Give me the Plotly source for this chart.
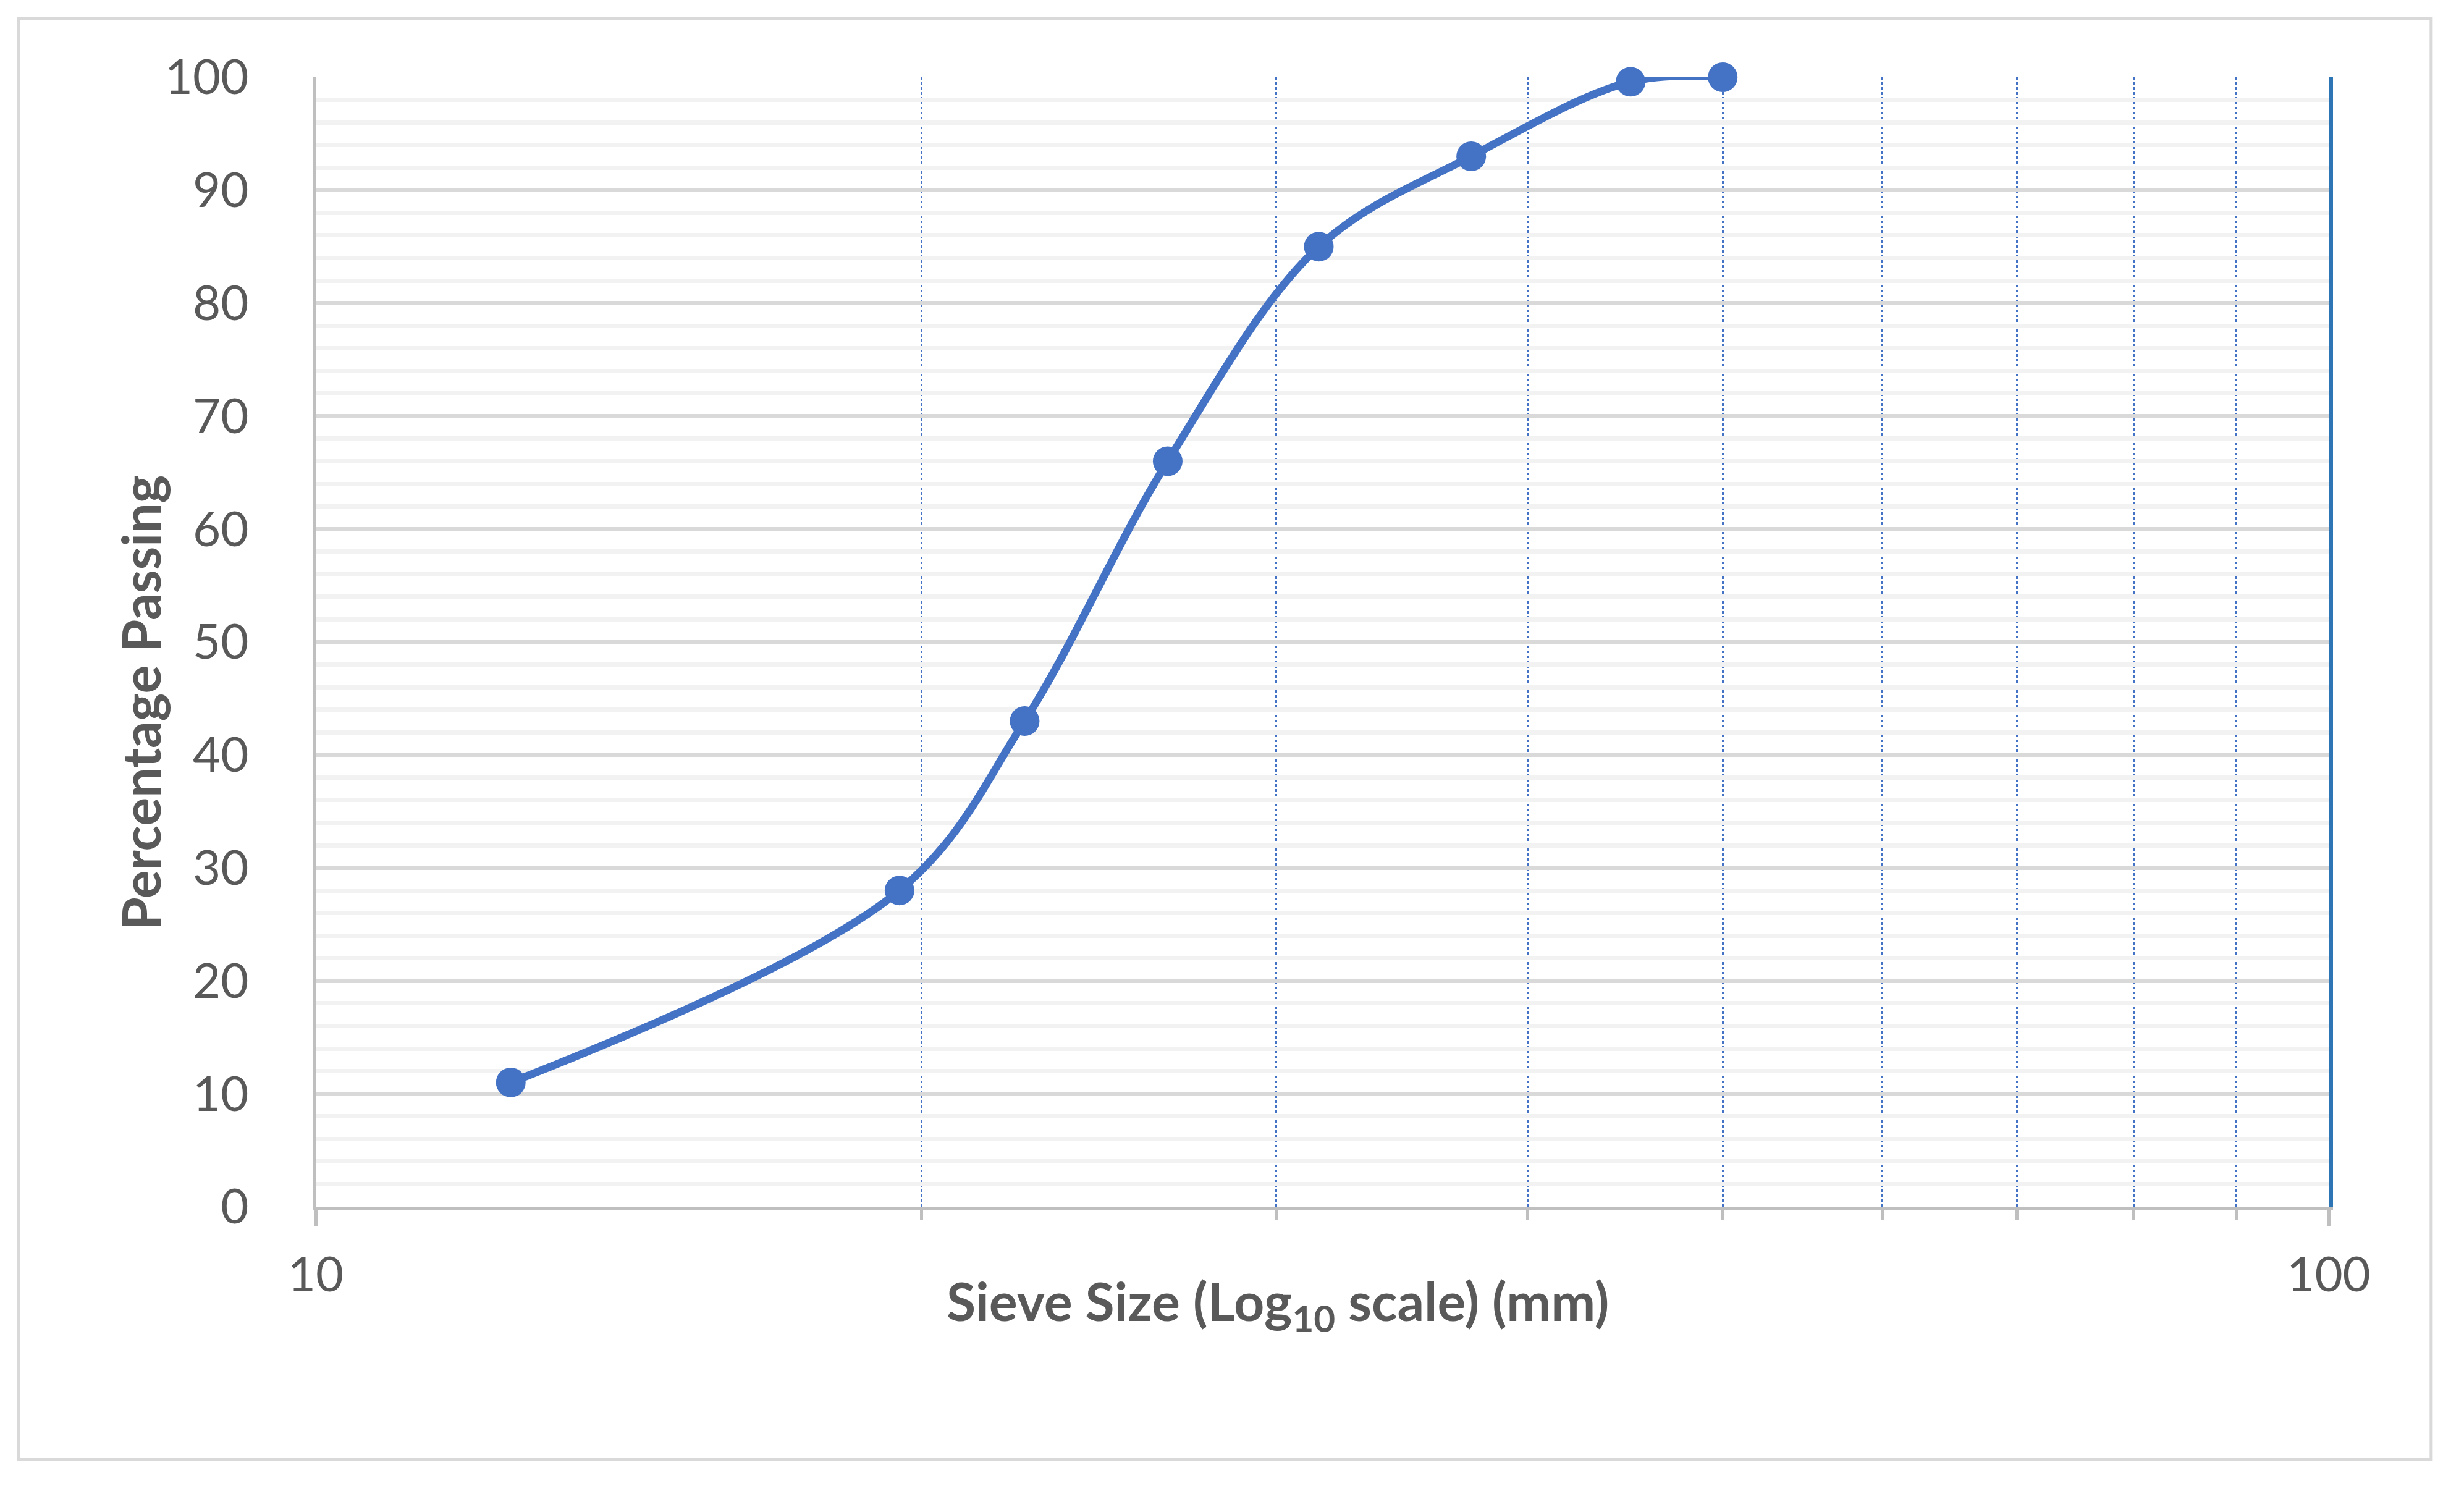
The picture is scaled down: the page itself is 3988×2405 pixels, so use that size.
import plotly.graph_objects as go

# sieve analysis: size (mm) vs cumulative % passing
sieve_mm = [12.5, 19.5, 22.5, 26.5, 31.5, 37.5, 45, 50]
passing = [11, 28, 43, 66, 85, 93, 99.6, 100]

y_ticks = list(range(0, 101, 10))
x_major = [10, 100]
x_minor = [20, 30, 40, 50, 60, 70, 80, 90]

BLUE = "#4472c4"
TXT = "#595959"
FONT = "Lato, 'Open Sans', sans-serif"

fig = go.Figure()
fig.add_trace(go.Scatter(
    x=sieve_mm, y=passing, mode="lines+markers",
    line=dict(color=BLUE, width=12.5, shape="spline", smoothing=1),
    marker=dict(color=BLUE, size=48),
    cliponaxis=False, showlegend=False,
))
# invisible copy so the right-hand axis (the blue edge at 100 mm) gets drawn
fig.add_trace(go.Scatter(
    x=sieve_mm, y=passing, yaxis="y2", mode="lines",
    line=dict(width=0), hoverinfo="skip", showlegend=False,
))

fig.update_xaxes(
    type="log", range=[1, 2],
    tickvals=x_major, ticktext=[str(v) for v in x_major],
    showgrid=False, zeroline=False,
    showline=True, linecolor="#bfbfbf", linewidth=5,
    ticks="outside", ticklen=26, tickwidth=5, tickcolor="#bfbfbf",
    ticklabelstandoff=12,
    tickfont=dict(family=FONT, size=78, color=TXT),
    minor=dict(tickvals=x_minor, ticks="outside", ticklen=16, tickwidth=5,
               tickcolor="#bfbfbf", showgrid=True, gridcolor=BLUE,
               gridwidth=3, griddash="4px,4px"),
)
fig.update_yaxes(
    range=[0, 100], tickvals=y_ticks,
    showgrid=True, gridcolor="#d9d9d9", gridwidth=6.5, zeroline=False,
    showline=True, linecolor="#bfbfbf", linewidth=5,
    ticks="", ticklabelstandoff=88,
    tickfont=dict(family=FONT, size=78, color=TXT),
    minor=dict(dtick=2, showgrid=True, gridcolor="#f2f2f2", gridwidth=6.5),
)
fig.update_layout(yaxis2=dict(
    overlaying="y", side="right", range=[0, 100],
    showline=True, linecolor="#2e75b6", linewidth=7,
    showgrid=False, zeroline=False, showticklabels=False, ticks="",
))

fig.add_annotation(
    text="<b>Sieve Size (Log<sub>10</sub> scale) (mm)</b>",
    xref="paper", yref="paper", x=0.478, y=-0.119,
    showarrow=False, font=dict(family=FONT, size=86, color=TXT),
)
fig.add_annotation(
    text="<b>Percentage Passing</b>", textangle=-90,
    xref="paper", yref="paper", x=-0.1037, y=0.446,
    showarrow=False, font=dict(family=FONT, size=86, color=TXT),
)

# chart-area border
fig.add_shape(
    type="rect", xref="paper", yref="paper",
    x0=-0.1476, x1=1.0509, y0=-0.2237, y1=1.052,
    line=dict(color="#d9d9d9", width=5),
)

# the page body adds an 8px offset, so margins are trimmed to compensate
fig.update_layout(
    width=3988, height=2405,
    margin=dict(l=503, r=227, t=117, b=460),
    plot_bgcolor="white", paper_bgcolor="white",
)

fig.write_html("out.html")
